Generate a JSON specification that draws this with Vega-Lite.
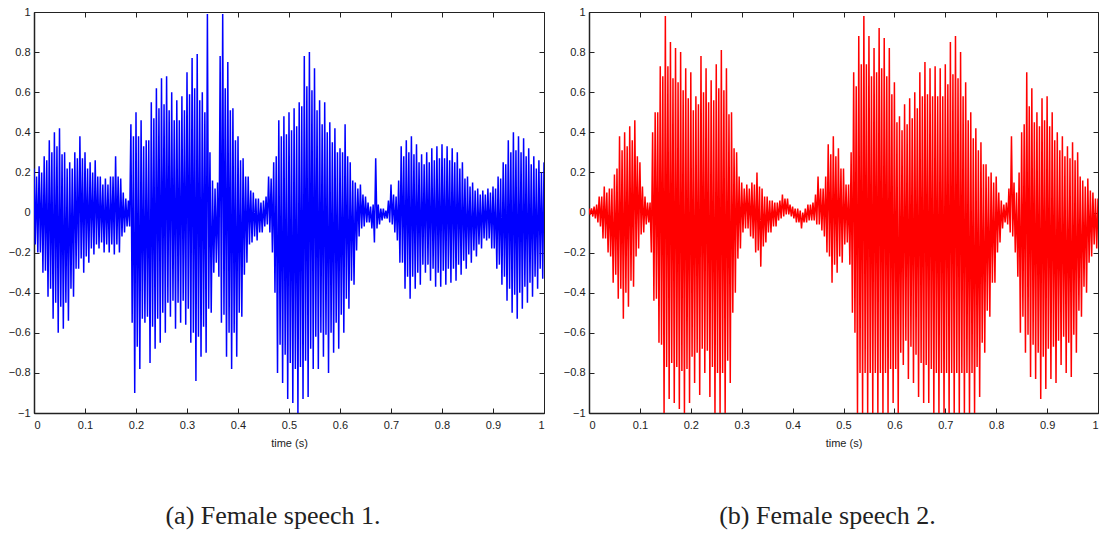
{
"$schema":"https://vega.github.io/schema/vega-lite/v6.json",
"padding":{"left":7,"top":5,"right":0,"bottom":0},
"background":"white",
"spacing":45,
"bounds":"flush",
"config":{"view":{"stroke":"#222","strokeWidth":1},
"axis":{"labelFont":"Liberation Sans","labelFontSize":11,"labelColor":"#222","tickColor":"#222","domainColor":"#222","domainWidth":1.5,"grid":false,"tickSize":-5,"labelPadding":9,"titleFont":"Liberation Sans","titleFontSize":11,"titleFontWeight":"normal","titleColor":"#222"},
"axisBottom":{"labelPadding":11,"titlePadding":7}},
"datasets":{
"a":[{"t":0,"v":0.22},{"t":0.0025,"v":-0.16},{"t":0.005,"v":0.18},{"t":0.0075,"v":-0.2},
{"t":0.01,"v":0.23},{"t":0.0125,"v":-0.2},{"t":0.015,"v":0.2},{"t":0.0175,"v":-0.3},
{"t":0.02,"v":0.28},{"t":0.0225,"v":-0.29},{"t":0.025,"v":0.26},{"t":0.0275,"v":-0.42},
{"t":0.03,"v":0.36},{"t":0.0325,"v":-0.38},{"t":0.035,"v":0.3},{"t":0.0375,"v":-0.53},
{"t":0.04,"v":0.4},{"t":0.0425,"v":-0.45},{"t":0.045,"v":0.33},{"t":0.0475,"v":-0.6},
{"t":0.05,"v":0.42},{"t":0.0525,"v":-0.47},{"t":0.055,"v":0.29},{"t":0.0575,"v":-0.58},
{"t":0.06,"v":0.3},{"t":0.0625,"v":-0.45},{"t":0.065,"v":0.22},{"t":0.0675,"v":-0.54},
{"t":0.07,"v":0.25},{"t":0.0725,"v":-0.38},{"t":0.075,"v":0.22},{"t":0.0775,"v":-0.42},
{"t":0.08,"v":0.3},{"t":0.0825,"v":-0.28},{"t":0.085,"v":0.27},{"t":0.0875,"v":-0.28},
{"t":0.09,"v":0.38},{"t":0.0925,"v":-0.23},{"t":0.095,"v":0.27},{"t":0.0975,"v":-0.3},
{"t":0.1,"v":0.3},{"t":0.1025,"v":-0.22},{"t":0.105,"v":0.22},{"t":0.1075,"v":-0.25},
{"t":0.11,"v":0.25},{"t":0.1125,"v":-0.18},{"t":0.115,"v":0.2},{"t":0.1175,"v":-0.21},
{"t":0.12,"v":0.26},{"t":0.1225,"v":-0.16},{"t":0.125,"v":0.18},{"t":0.1275,"v":-0.18},
{"t":0.13,"v":0.18},{"t":0.1325,"v":-0.15},{"t":0.135,"v":0.14},{"t":0.1375,"v":-0.2},
{"t":0.14,"v":0.17},{"t":0.1425,"v":-0.16},{"t":0.145,"v":0.14},{"t":0.1475,"v":-0.2},
{"t":0.15,"v":0.18},{"t":0.1525,"v":-0.16},{"t":0.155,"v":0.18},{"t":0.1575,"v":-0.21},
{"t":0.16,"v":0.28},{"t":0.1625,"v":-0.16},{"t":0.165,"v":0.18},{"t":0.1675,"v":-0.2},
{"t":0.17,"v":0.17},{"t":0.1725,"v":-0.12},{"t":0.175,"v":0.1},{"t":0.1775,"v":-0.1},
{"t":0.18,"v":0.07},{"t":0.1825,"v":-0.07},{"t":0.185,"v":0.06},{"t":0.1875,"v":-0.07},
{"t":0.19,"v":0.44},{"t":0.1925,"v":-0.55},{"t":0.195,"v":0.38},{"t":0.1975,"v":-0.9},
{"t":0.2,"v":0.5},{"t":0.2025,"v":-0.67},{"t":0.205,"v":0.38},{"t":0.2075,"v":-0.78},
{"t":0.21,"v":0.46},{"t":0.2125,"v":-0.53},{"t":0.215,"v":0.33},{"t":0.2175,"v":-0.55},
{"t":0.22,"v":0.36},{"t":0.2225,"v":-0.52},{"t":0.225,"v":0.36},{"t":0.2275,"v":-0.75},
{"t":0.23,"v":0.55},{"t":0.2325,"v":-0.57},{"t":0.235,"v":0.47},{"t":0.2375,"v":-0.68},
{"t":0.24,"v":0.62},{"t":0.2425,"v":-0.53},{"t":0.245,"v":0.52},{"t":0.2475,"v":-0.65},
{"t":0.25,"v":0.67},{"t":0.2525,"v":-0.5},{"t":0.255,"v":0.54},{"t":0.2575,"v":-0.6},
{"t":0.26,"v":0.68},{"t":0.2625,"v":-0.45},{"t":0.265,"v":0.51},{"t":0.2675,"v":-0.52},
{"t":0.27,"v":0.6},{"t":0.2725,"v":-0.44},{"t":0.275,"v":0.46},{"t":0.2775,"v":-0.58},
{"t":0.28,"v":0.56},{"t":0.2825,"v":-0.45},{"t":0.285,"v":0.46},{"t":0.2875,"v":-0.55},
{"t":0.29,"v":0.58},{"t":0.2925,"v":-0.44},{"t":0.295,"v":0.51},{"t":0.2975,"v":-0.56},
{"t":0.3,"v":0.7},{"t":0.3025,"v":-0.48},{"t":0.305,"v":0.59},{"t":0.3075,"v":-0.65},
{"t":0.31,"v":0.77},{"t":0.3125,"v":-0.6},{"t":0.315,"v":0.62},{"t":0.3175,"v":-0.84},
{"t":0.32,"v":0.79},{"t":0.3225,"v":-0.62},{"t":0.325,"v":0.56},{"t":0.3275,"v":-0.72},
{"t":0.33,"v":0.6},{"t":0.3325,"v":-0.57},{"t":0.335,"v":0.5},{"t":0.3375,"v":-0.7},
{"t":0.34,"v":0.99},{"t":0.3425,"v":-0.48},{"t":0.345,"v":0.3},{"t":0.3475,"v":-0.5},
{"t":0.35,"v":0.16},{"t":0.3525,"v":-0.3},{"t":0.355,"v":0.12},{"t":0.3575,"v":-0.25},
{"t":0.36,"v":0.15},{"t":0.3625,"v":-0.32},{"t":0.365,"v":0.78},{"t":0.3675,"v":-0.55},
{"t":0.37,"v":0.99},{"t":0.3725,"v":-0.51},{"t":0.375,"v":0.62},{"t":0.3775,"v":-0.72},
{"t":0.38,"v":0.75},{"t":0.3825,"v":-0.6},{"t":0.385,"v":0.51},{"t":0.3875,"v":-0.78},
{"t":0.39,"v":0.52},{"t":0.3925,"v":-0.6},{"t":0.395,"v":0.36},{"t":0.3975,"v":-0.72},
{"t":0.4,"v":0.38},{"t":0.4025,"v":-0.5},{"t":0.405,"v":0.26},{"t":0.4075,"v":-0.52},
{"t":0.41,"v":0.27},{"t":0.4125,"v":-0.31},{"t":0.415,"v":0.18},{"t":0.4175,"v":-0.25},
{"t":0.42,"v":0.18},{"t":0.4225,"v":-0.16},{"t":0.425,"v":0.11},{"t":0.4275,"v":-0.15},
{"t":0.43,"v":0.1},{"t":0.4325,"v":-0.12},{"t":0.435,"v":0.07},{"t":0.4375,"v":-0.14},
{"t":0.44,"v":0.07},{"t":0.4425,"v":-0.1},{"t":0.445,"v":0.05},{"t":0.4475,"v":-0.1},
{"t":0.45,"v":0.06},{"t":0.4525,"v":-0.07},{"t":0.455,"v":0.08},{"t":0.4575,"v":-0.06},
{"t":0.46,"v":0.18},{"t":0.4625,"v":-0.1},{"t":0.465,"v":0.17},{"t":0.4675,"v":-0.2},
{"t":0.47,"v":0.25},{"t":0.4725,"v":-0.4},{"t":0.475,"v":0.28},{"t":0.4775,"v":-0.8},
{"t":0.48,"v":0.46},{"t":0.4825,"v":-0.66},{"t":0.485,"v":0.38},{"t":0.4875,"v":-0.85},
{"t":0.49,"v":0.48},{"t":0.4925,"v":-0.71},{"t":0.495,"v":0.39},{"t":0.4975,"v":-0.93},
{"t":0.5,"v":0.5},{"t":0.5025,"v":-0.75},{"t":0.505,"v":0.41},{"t":0.5075,"v":-0.95},
{"t":0.51,"v":0.52},{"t":0.5125,"v":-0.78},{"t":0.515,"v":0.43},{"t":0.5175,"v":-1},
{"t":0.52,"v":0.55},{"t":0.5225,"v":-0.77},{"t":0.525,"v":0.53},{"t":0.5275,"v":-0.93},
{"t":0.53,"v":0.78},{"t":0.5325,"v":-0.74},{"t":0.535,"v":0.63},{"t":0.5375,"v":-0.92},
{"t":0.54,"v":0.8},{"t":0.5425,"v":-0.68},{"t":0.545,"v":0.61},{"t":0.5475,"v":-0.78},
{"t":0.55,"v":0.72},{"t":0.5525,"v":-0.62},{"t":0.555,"v":0.51},{"t":0.5575,"v":-0.78},
{"t":0.56,"v":0.56},{"t":0.5625,"v":-0.6},{"t":0.565,"v":0.44},{"t":0.5675,"v":-0.72},
{"t":0.57,"v":0.55},{"t":0.5725,"v":-0.61},{"t":0.575,"v":0.4},{"t":0.5775,"v":-0.8},
{"t":0.58,"v":0.45},{"t":0.5825,"v":-0.6},{"t":0.585,"v":0.35},{"t":0.5875,"v":-0.7},
{"t":0.59,"v":0.42},{"t":0.5925,"v":-0.55},{"t":0.595,"v":0.3},{"t":0.5975,"v":-0.68},
{"t":0.6,"v":0.32},{"t":0.6025,"v":-0.51},{"t":0.605,"v":0.3},{"t":0.6075,"v":-0.6},
{"t":0.61,"v":0.44},{"t":0.6125,"v":-0.43},{"t":0.615,"v":0.28},{"t":0.6175,"v":-0.48},
{"t":0.62,"v":0.25},{"t":0.6225,"v":-0.34},{"t":0.625,"v":0.16},{"t":0.6275,"v":-0.36},
{"t":0.63,"v":0.15},{"t":0.6325,"v":-0.19},{"t":0.635,"v":0.12},{"t":0.6375,"v":-0.12},
{"t":0.64,"v":0.14},{"t":0.6425,"v":-0.08},{"t":0.645,"v":0.09},{"t":0.6475,"v":-0.07},
{"t":0.65,"v":0.08},{"t":0.6525,"v":-0.05},{"t":0.655,"v":0.05},{"t":0.6575,"v":-0.05},
{"t":0.66,"v":0.03},{"t":0.6625,"v":-0.08},{"t":0.665,"v":0.04},{"t":0.6675,"v":-0.15},
{"t":0.67,"v":0.27},{"t":0.6725,"v":-0.08},{"t":0.675,"v":0.04},{"t":0.6775,"v":-0.06},
{"t":0.68,"v":0.02},{"t":0.6825,"v":-0.04},{"t":0.685,"v":0.02},{"t":0.6875,"v":-0.03},
{"t":0.69,"v":0.01},{"t":0.6925,"v":-0.03},{"t":0.695,"v":0.06},{"t":0.6975,"v":-0.05},
{"t":0.7,"v":0.14},{"t":0.7025,"v":-0.06},{"t":0.705,"v":0.09},{"t":0.7075,"v":-0.1},
{"t":0.71,"v":0.08},{"t":0.7125,"v":-0.14},{"t":0.715,"v":0.16},{"t":0.7175,"v":-0.25},
{"t":0.72,"v":0.33},{"t":0.7225,"v":-0.25},{"t":0.725,"v":0.28},{"t":0.7275,"v":-0.38},
{"t":0.73,"v":0.36},{"t":0.7325,"v":-0.32},{"t":0.735,"v":0.3},{"t":0.7375,"v":-0.43},
{"t":0.74,"v":0.38},{"t":0.7425,"v":-0.32},{"t":0.745,"v":0.29},{"t":0.7475,"v":-0.38},
{"t":0.75,"v":0.34},{"t":0.7525,"v":-0.3},{"t":0.755,"v":0.25},{"t":0.7575,"v":-0.36},
{"t":0.76,"v":0.29},{"t":0.7625,"v":-0.26},{"t":0.765,"v":0.24},{"t":0.7675,"v":-0.3},
{"t":0.77,"v":0.3},{"t":0.7725,"v":-0.26},{"t":0.775,"v":0.25},{"t":0.7775,"v":-0.34},
{"t":0.78,"v":0.32},{"t":0.7825,"v":-0.28},{"t":0.785,"v":0.26},{"t":0.7875,"v":-0.37},
{"t":0.79,"v":0.33},{"t":0.7925,"v":-0.3},{"t":0.795,"v":0.27},{"t":0.7975,"v":-0.37},
{"t":0.8,"v":0.34},{"t":0.8025,"v":-0.29},{"t":0.805,"v":0.27},{"t":0.8075,"v":-0.36},
{"t":0.81,"v":0.33},{"t":0.8125,"v":-0.28},{"t":0.815,"v":0.26},{"t":0.8175,"v":-0.35},
{"t":0.82,"v":0.32},{"t":0.8225,"v":-0.28},{"t":0.825,"v":0.25},{"t":0.8275,"v":-0.34},
{"t":0.83,"v":0.3},{"t":0.8325,"v":-0.26},{"t":0.835,"v":0.22},{"t":0.8375,"v":-0.31},
{"t":0.84,"v":0.25},{"t":0.8425,"v":-0.24},{"t":0.845,"v":0.17},{"t":0.8475,"v":-0.28},
{"t":0.85,"v":0.18},{"t":0.8525,"v":-0.21},{"t":0.855,"v":0.13},{"t":0.8575,"v":-0.25},
{"t":0.86,"v":0.15},{"t":0.8625,"v":-0.19},{"t":0.865,"v":0.11},{"t":0.8675,"v":-0.22},
{"t":0.87,"v":0.12},{"t":0.8725,"v":-0.16},{"t":0.875,"v":0.09},{"t":0.8775,"v":-0.18},
{"t":0.88,"v":0.11},{"t":0.8825,"v":-0.13},{"t":0.885,"v":0.09},{"t":0.8875,"v":-0.14},
{"t":0.89,"v":0.12},{"t":0.8925,"v":-0.13},{"t":0.895,"v":0.1},{"t":0.8975,"v":-0.18},
{"t":0.9,"v":0.13},{"t":0.9025,"v":-0.18},{"t":0.905,"v":0.12},{"t":0.9075,"v":-0.28},
{"t":0.91,"v":0.18},{"t":0.9125,"v":-0.26},{"t":0.915,"v":0.17},{"t":0.9175,"v":-0.36},
{"t":0.92,"v":0.25},{"t":0.9225,"v":-0.32},{"t":0.925,"v":0.24},{"t":0.9275,"v":-0.44},
{"t":0.93,"v":0.36},{"t":0.9325,"v":-0.38},{"t":0.935,"v":0.3},{"t":0.9375,"v":-0.5},
{"t":0.94,"v":0.4},{"t":0.9425,"v":-0.41},{"t":0.945,"v":0.31},{"t":0.9475,"v":-0.53},
{"t":0.95,"v":0.38},{"t":0.9525,"v":-0.4},{"t":0.955,"v":0.3},{"t":0.9575,"v":-0.48},
{"t":0.96,"v":0.37},{"t":0.9625,"v":-0.37},{"t":0.965,"v":0.28},{"t":0.9675,"v":-0.45},
{"t":0.97,"v":0.32},{"t":0.9725,"v":-0.35},{"t":0.975,"v":0.24},{"t":0.9775,"v":-0.42},
{"t":0.98,"v":0.28},{"t":0.9825,"v":-0.32},{"t":0.985,"v":0.22},{"t":0.9875,"v":-0.38},
{"t":0.99,"v":0.26},{"t":0.9925,"v":-0.28},{"t":0.995,"v":0.2},{"t":0.9975,"v":-0.33},
{"t":1,"v":0.25}],
"b":[{"t":0,"v":0.02},{"t":0.0025,"v":-0.01},{"t":0.005,"v":0.02},{"t":0.0075,"v":-0.02},
{"t":0.01,"v":0.03},{"t":0.0125,"v":-0.03},{"t":0.015,"v":0.04},{"t":0.0175,"v":-0.05},
{"t":0.02,"v":0.08},{"t":0.0225,"v":-0.07},{"t":0.025,"v":0.08},{"t":0.0275,"v":-0.13},
{"t":0.03,"v":0.13},{"t":0.0325,"v":-0.13},{"t":0.035,"v":0.1},{"t":0.0375,"v":-0.2},
{"t":0.04,"v":0.12},{"t":0.0425,"v":-0.22},{"t":0.045,"v":0.12},{"t":0.0475,"v":-0.35},
{"t":0.05,"v":0.19},{"t":0.0525,"v":-0.31},{"t":0.055,"v":0.22},{"t":0.0575,"v":-0.43},
{"t":0.06,"v":0.38},{"t":0.0625,"v":-0.38},{"t":0.065,"v":0.31},{"t":0.0675,"v":-0.53},
{"t":0.07,"v":0.4},{"t":0.0725,"v":-0.4},{"t":0.075,"v":0.33},{"t":0.0775,"v":-0.47},
{"t":0.08,"v":0.43},{"t":0.0825,"v":-0.34},{"t":0.085,"v":0.36},{"t":0.0875,"v":-0.37},
{"t":0.09,"v":0.46},{"t":0.0925,"v":-0.22},{"t":0.095,"v":0.28},{"t":0.0975,"v":-0.18},
{"t":0.1,"v":0.25},{"t":0.1025,"v":-0.11},{"t":0.105,"v":0.13},{"t":0.1075,"v":-0.1},
{"t":0.11,"v":0.08},{"t":0.1125,"v":-0.06},{"t":0.115,"v":0.05},{"t":0.1175,"v":-0.05},
{"t":0.12,"v":0.05},{"t":0.1225,"v":-0.2},{"t":0.125,"v":0.4},{"t":0.1275,"v":-0.44},
{"t":0.13,"v":0.5},{"t":0.1325,"v":-0.43},{"t":0.135,"v":0.5},{"t":0.1375,"v":-0.65},
{"t":0.14,"v":0.73},{"t":0.1425,"v":-0.66},{"t":0.145,"v":0.68},{"t":0.1475,"v":-1},
{"t":0.15,"v":0.98},{"t":0.1525,"v":-0.77},{"t":0.155,"v":0.73},{"t":0.1575,"v":-0.93},
{"t":0.16,"v":0.85},{"t":0.1625,"v":-0.75},{"t":0.165,"v":0.67},{"t":0.1675,"v":-0.95},
{"t":0.17,"v":0.82},{"t":0.1725,"v":-0.77},{"t":0.175,"v":0.65},{"t":0.1775,"v":-0.98},
{"t":0.18,"v":0.8},{"t":0.1825,"v":-0.79},{"t":0.185,"v":0.61},{"t":0.1875,"v":-1},
{"t":0.19,"v":0.72},{"t":0.1925,"v":-0.78},{"t":0.195,"v":0.57},{"t":0.1975,"v":-0.95},
{"t":0.2,"v":0.7},{"t":0.2025,"v":-0.72},{"t":0.205,"v":0.51},{"t":0.2075,"v":-0.85},
{"t":0.21,"v":0.58},{"t":0.2125,"v":-0.7},{"t":0.215,"v":0.54},{"t":0.2175,"v":-0.91},
{"t":0.22,"v":0.78},{"t":0.2225,"v":-0.68},{"t":0.225,"v":0.6},{"t":0.2275,"v":-0.8},
{"t":0.23,"v":0.72},{"t":0.2325,"v":-0.69},{"t":0.235,"v":0.55},{"t":0.2375,"v":-0.92},
{"t":0.24,"v":0.66},{"t":0.2425,"v":-0.77},{"t":0.245,"v":0.56},{"t":0.2475,"v":-1},
{"t":0.25,"v":0.74},{"t":0.2525,"v":-0.8},{"t":0.255,"v":0.62},{"t":0.2575,"v":-1},
{"t":0.26,"v":0.81},{"t":0.2625,"v":-0.8},{"t":0.265,"v":0.61},{"t":0.2675,"v":-1},
{"t":0.27,"v":0.72},{"t":0.2725,"v":-0.74},{"t":0.275,"v":0.49},{"t":0.2775,"v":-0.85},
{"t":0.28,"v":0.5},{"t":0.2825,"v":-0.5},{"t":0.285,"v":0.32},{"t":0.2875,"v":-0.4},
{"t":0.29,"v":0.3},{"t":0.2925,"v":-0.23},{"t":0.295,"v":0.18},{"t":0.2975,"v":-0.18},
{"t":0.3,"v":0.15},{"t":0.3025,"v":-0.1},{"t":0.305,"v":0.12},{"t":0.3075,"v":-0.08},
{"t":0.31,"v":0.14},{"t":0.3125,"v":-0.08},{"t":0.315,"v":0.12},{"t":0.3175,"v":-0.12},
{"t":0.32,"v":0.15},{"t":0.3225,"v":-0.13},{"t":0.325,"v":0.14},{"t":0.3275,"v":-0.2},
{"t":0.33,"v":0.2},{"t":0.3325,"v":-0.19},{"t":0.335,"v":0.13},{"t":0.3375,"v":-0.27},
{"t":0.34,"v":0.12},{"t":0.3425,"v":-0.17},{"t":0.345,"v":0.08},{"t":0.3475,"v":-0.15},
{"t":0.35,"v":0.08},{"t":0.3525,"v":-0.1},{"t":0.355,"v":0.06},{"t":0.3575,"v":-0.1},
{"t":0.36,"v":0.06},{"t":0.3625,"v":-0.07},{"t":0.365,"v":0.05},{"t":0.3675,"v":-0.07},
{"t":0.37,"v":0.05},{"t":0.3725,"v":-0.04},{"t":0.375,"v":0.06},{"t":0.3775,"v":-0.03},
{"t":0.38,"v":0.09},{"t":0.3825,"v":-0.02},{"t":0.385,"v":0.07},{"t":0.3875,"v":-0.01},
{"t":0.39,"v":0.07},{"t":0.3925,"v":-0.01},{"t":0.395,"v":0.04},{"t":0.3975,"v":-0.02},
{"t":0.4,"v":0.03},{"t":0.4025,"v":-0.03},{"t":0.405,"v":0.02},{"t":0.4075,"v":-0.05},
{"t":0.41,"v":0.02},{"t":0.4125,"v":-0.05},{"t":0.415,"v":0.01},{"t":0.4175,"v":-0.08},
{"t":0.42,"v":0},{"t":0.4225,"v":-0.05},{"t":0.425,"v":0.02},{"t":0.4275,"v":-0.05},
{"t":0.43,"v":0.04},{"t":0.4325,"v":-0.04},{"t":0.435,"v":0.04},{"t":0.4375,"v":-0.04},
{"t":0.44,"v":0.05},{"t":0.4425,"v":-0.04},{"t":0.445,"v":0.09},{"t":0.4475,"v":-0.06},
{"t":0.45,"v":0.18},{"t":0.4525,"v":-0.06},{"t":0.455,"v":0.12},{"t":0.4575,"v":-0.09},
{"t":0.46,"v":0.12},{"t":0.4625,"v":-0.12},{"t":0.465,"v":0.18},{"t":0.4675,"v":-0.2},
{"t":0.47,"v":0.34},{"t":0.4725,"v":-0.22},{"t":0.475,"v":0.29},{"t":0.4775,"v":-0.35},
{"t":0.48,"v":0.38},{"t":0.4825,"v":-0.26},{"t":0.485,"v":0.28},{"t":0.4875,"v":-0.3},
{"t":0.49,"v":0.32},{"t":0.4925,"v":-0.22},{"t":0.495,"v":0.22},{"t":0.4975,"v":-0.25},
{"t":0.5,"v":0.22},{"t":0.5025,"v":-0.16},{"t":0.505,"v":0.14},{"t":0.5075,"v":-0.15},
{"t":0.51,"v":0.14},{"t":0.5125,"v":-0.26},{"t":0.515,"v":0.3},{"t":0.5175,"v":-0.5},
{"t":0.52,"v":0.7},{"t":0.5225,"v":-0.6},{"t":0.525,"v":0.63},{"t":0.5275,"v":-1},
{"t":0.53,"v":0.88},{"t":0.5325,"v":-0.8},{"t":0.535,"v":0.74},{"t":0.5375,"v":-1},
{"t":0.54,"v":0.98},{"t":0.5425,"v":-0.8},{"t":0.545,"v":0.74},{"t":0.5475,"v":-1},
{"t":0.55,"v":0.88},{"t":0.5525,"v":-0.8},{"t":0.555,"v":0.68},{"t":0.5575,"v":-1},
{"t":0.56,"v":0.82},{"t":0.5625,"v":-0.8},{"t":0.565,"v":0.7},{"t":0.5675,"v":-1},
{"t":0.57,"v":0.92},{"t":0.5725,"v":-0.8},{"t":0.575,"v":0.72},{"t":0.5775,"v":-1},
{"t":0.58,"v":0.87},{"t":0.5825,"v":-0.8},{"t":0.585,"v":0.68},{"t":0.5875,"v":-1},
{"t":0.59,"v":0.82},{"t":0.5925,"v":-0.78},{"t":0.595,"v":0.59},{"t":0.5975,"v":-0.95},
{"t":0.6,"v":0.65},{"t":0.6025,"v":-0.78},{"t":0.605,"v":0.45},{"t":0.6075,"v":-1},
{"t":0.61,"v":0.48},{"t":0.6125,"v":-0.7},{"t":0.615,"v":0.41},{"t":0.6175,"v":-0.76},
{"t":0.62,"v":0.54},{"t":0.6225,"v":-0.64},{"t":0.625,"v":0.44},{"t":0.6275,"v":-0.83},
{"t":0.63,"v":0.57},{"t":0.6325,"v":-0.67},{"t":0.635,"v":0.47},{"t":0.6375,"v":-0.85},
{"t":0.64,"v":0.6},{"t":0.6425,"v":-0.71},{"t":0.645,"v":0.52},{"t":0.6475,"v":-0.92},
{"t":0.65,"v":0.7},{"t":0.6525,"v":-0.75},{"t":0.655,"v":0.58},{"t":0.6575,"v":-0.95},
{"t":0.66,"v":0.75},{"t":0.6625,"v":-0.76},{"t":0.665,"v":0.59},{"t":0.6675,"v":-0.95},
{"t":0.67,"v":0.72},{"t":0.6725,"v":-0.78},{"t":0.675,"v":0.58},{"t":0.6775,"v":-1},
{"t":0.68,"v":0.73},{"t":0.6825,"v":-0.8},{"t":0.685,"v":0.58},{"t":0.6875,"v":-1},
{"t":0.69,"v":0.72},{"t":0.6925,"v":-0.8},{"t":0.695,"v":0.58},{"t":0.6975,"v":-1},
{"t":0.7,"v":0.74},{"t":0.7025,"v":-0.8},{"t":0.705,"v":0.64},{"t":0.7075,"v":-1},
{"t":0.71,"v":0.85},{"t":0.7125,"v":-0.8},{"t":0.715,"v":0.69},{"t":0.7175,"v":-1},
{"t":0.72,"v":0.88},{"t":0.7225,"v":-0.8},{"t":0.725,"v":0.67},{"t":0.7275,"v":-1},
{"t":0.73,"v":0.8},{"t":0.7325,"v":-0.8},{"t":0.735,"v":0.58},{"t":0.7375,"v":-1},
{"t":0.74,"v":0.65},{"t":0.7425,"v":-0.8},{"t":0.745,"v":0.46},{"t":0.7475,"v":-1},
{"t":0.75,"v":0.5},{"t":0.7525,"v":-0.8},{"t":0.755,"v":0.37},{"t":0.7575,"v":-1},
{"t":0.76,"v":0.42},{"t":0.7625,"v":-0.77},{"t":0.765,"v":0.31},{"t":0.7675,"v":-0.92},
{"t":0.77,"v":0.35},{"t":0.7725,"v":-0.65},{"t":0.775,"v":0.24},{"t":0.7775,"v":-0.7},
{"t":0.78,"v":0.24},{"t":0.7825,"v":-0.49},{"t":0.785,"v":0.18},{"t":0.7875,"v":-0.52},
{"t":0.79,"v":0.2},{"t":0.7925,"v":-0.35},{"t":0.795,"v":0.15},{"t":0.7975,"v":-0.35},
{"t":0.8,"v":0.18},{"t":0.8025,"v":-0.2},{"t":0.805,"v":0.1},{"t":0.8075,"v":-0.15},
{"t":0.81,"v":0.06},{"t":0.8125,"v":-0.08},{"t":0.815,"v":0.04},{"t":0.8175,"v":-0.05},
{"t":0.82,"v":0.05},{"t":0.8225,"v":-0.06},{"t":0.825,"v":0.12},{"t":0.8275,"v":-0.1},
{"t":0.83,"v":0.38},{"t":0.8325,"v":-0.12},{"t":0.835,"v":0.15},{"t":0.8375,"v":-0.2},
{"t":0.84,"v":0.1},{"t":0.8425,"v":-0.32},{"t":0.845,"v":0.2},{"t":0.8475,"v":-0.6},
{"t":0.85,"v":0.4},{"t":0.8525,"v":-0.52},{"t":0.855,"v":0.44},{"t":0.8575,"v":-0.7},
{"t":0.86,"v":0.7},{"t":0.8625,"v":-0.61},{"t":0.865,"v":0.53},{"t":0.8675,"v":-0.82},
{"t":0.87,"v":0.62},{"t":0.8725,"v":-0.66},{"t":0.875,"v":0.45},{"t":0.8775,"v":-0.83},
{"t":0.88,"v":0.5},{"t":0.8825,"v":-0.7},{"t":0.885,"v":0.43},{"t":0.8875,"v":-0.93},
{"t":0.89,"v":0.57},{"t":0.8925,"v":-0.72},{"t":0.895,"v":0.46},{"t":0.8975,"v":-0.88},
{"t":0.9,"v":0.58},{"t":0.9025,"v":-0.68},{"t":0.905,"v":0.43},{"t":0.9075,"v":-0.83},
{"t":0.91,"v":0.5},{"t":0.9125,"v":-0.67},{"t":0.915,"v":0.36},{"t":0.9175,"v":-0.85},
{"t":0.92,"v":0.4},{"t":0.9225,"v":-0.64},{"t":0.925,"v":0.31},{"t":0.9275,"v":-0.76},
{"t":0.93,"v":0.38},{"t":0.9325,"v":-0.62},{"t":0.935,"v":0.28},{"t":0.9375,"v":-0.8},
{"t":0.94,"v":0.33},{"t":0.9425,"v":-0.65},{"t":0.945,"v":0.27},{"t":0.9475,"v":-0.82},
{"t":0.95,"v":0.35},{"t":0.9525,"v":-0.61},{"t":0.955,"v":0.26},{"t":0.9575,"v":-0.7},
{"t":0.96,"v":0.3},{"t":0.9625,"v":-0.49},{"t":0.965,"v":0.18},{"t":0.9675,"v":-0.52},
{"t":0.97,"v":0.16},{"t":0.9725,"v":-0.37},{"t":0.975,"v":0.13},{"t":0.9775,"v":-0.4},
{"t":0.98,"v":0.17},{"t":0.9825,"v":-0.25},{"t":0.985,"v":0.11},{"t":0.9875,"v":-0.22},
{"t":0.99,"v":0.1},{"t":0.9925,"v":-0.16},{"t":0.995,"v":0.07},{"t":0.9975,"v":-0.18},
{"t":1,"v":0.07}]
},
"hconcat":[
{"width":510,"height":401,"data":{"name":"a"},
"title":{"text":"(a) Female speech 1.","orient":"bottom","anchor":"middle","baseline":"top","font":"Liberation Serif","fontSize":26,"fontWeight":"normal","color":"#222","offset":55,"dx":-16},
"resolve":{"axis":{"x":"independent","y":"independent"}},
"layer":[
{"mark":{"type":"line","color":"#0000ff","strokeWidth":1.5,"clip":true},
"encoding":{"x":{"field":"t","type":"quantitative","scale":{"domain":[0,1],"nice":false},"axis":{"values":[0,0.1,0.2,0.3,0.4,0.5,0.6,0.7,0.8,0.9,1],"format":".1~f","title":"time (s)","orient":"bottom"}},
"y":{"field":"v","type":"quantitative","scale":{"domain":[-1,1],"nice":false,"zero":false},"axis":{"values":[-1,-0.8,-0.6,-0.4,-0.2,0,0.2,0.4,0.6,0.8,1],"format":".1~f","title":null,"orient":"left"}}}},
{"mark":{"type":"line","opacity":0},
"encoding":{"x":{"field":"t","type":"quantitative","axis":{"values":[0,0.1,0.2,0.3,0.4,0.5,0.6,0.7,0.8,0.9,1],"labels":false,"title":null,"orient":"top","domain":false}},
"y":{"field":"v","type":"quantitative","axis":{"values":[-1,-0.8,-0.6,-0.4,-0.2,0,0.2,0.4,0.6,0.8,1],"labels":false,"title":null,"orient":"right","domain":false}}}}
]},
{"width":509,"height":401,"data":{"name":"b"},
"title":{"text":"(b) Female speech 2.","orient":"bottom","anchor":"middle","baseline":"top","font":"Liberation Serif","fontSize":26,"fontWeight":"normal","color":"#222","offset":55,"dx":-16},
"resolve":{"axis":{"x":"independent","y":"independent"}},
"layer":[
{"mark":{"type":"line","color":"#ff0000","strokeWidth":1.5,"clip":true},
"encoding":{"x":{"field":"t","type":"quantitative","scale":{"domain":[0,1],"nice":false},"axis":{"values":[0,0.1,0.2,0.3,0.4,0.5,0.6,0.7,0.8,0.9,1],"format":".1~f","title":"time (s)","orient":"bottom"}},
"y":{"field":"v","type":"quantitative","scale":{"domain":[-1,1],"nice":false,"zero":false},"axis":{"values":[-1,-0.8,-0.6,-0.4,-0.2,0,0.2,0.4,0.6,0.8,1],"format":".1~f","title":null,"orient":"left"}}}},
{"mark":{"type":"line","opacity":0},
"encoding":{"x":{"field":"t","type":"quantitative","axis":{"values":[0,0.1,0.2,0.3,0.4,0.5,0.6,0.7,0.8,0.9,1],"labels":false,"title":null,"orient":"top","domain":false}},
"y":{"field":"v","type":"quantitative","axis":{"values":[-1,-0.8,-0.6,-0.4,-0.2,0,0.2,0.4,0.6,0.8,1],"labels":false,"title":null,"orient":"right","domain":false}}}}
]}
]
}
